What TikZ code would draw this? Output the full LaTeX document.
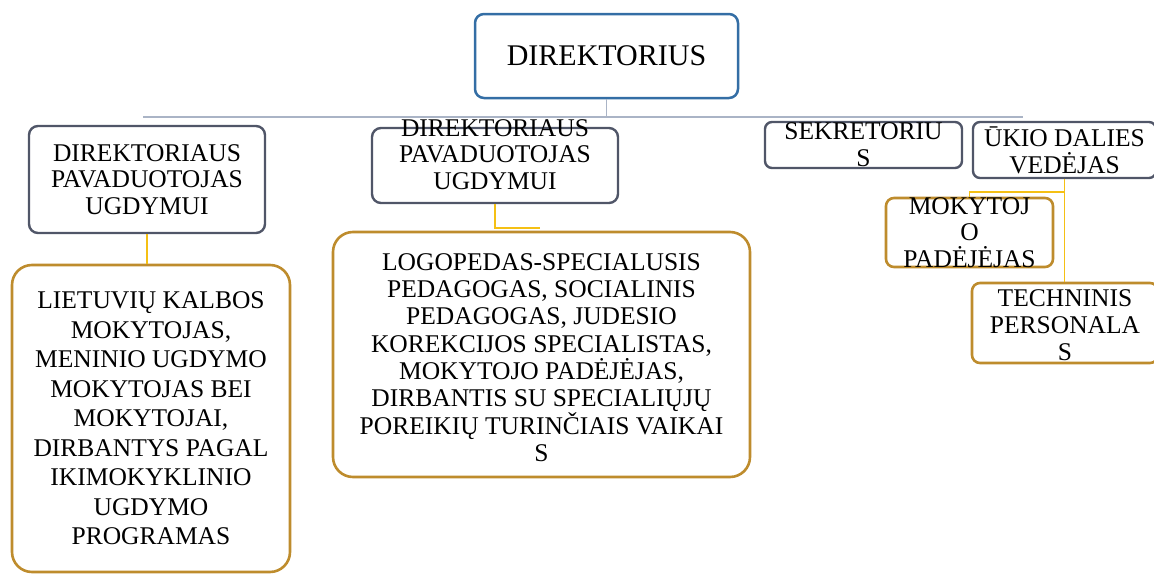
\documentclass[tikz,border=0pt]{standalone}
\usepackage{fontspec}
\setmainfont{Liberation Serif}
\usepackage{tikz}

\definecolor{dirblue}{RGB}{52,110,165}
\definecolor{frgray}{RGB}{80,86,104}
\definecolor{frgold}{RGB}{190,140,45}
\definecolor{busgray}{RGB}{170,180,198}
\definecolor{lnyellow}{RGB}{245,192,20}

\begin{document}
\begin{tikzpicture}[x=1pt,y=-1pt,
	box/.style={shape=rectangle,draw=frgray,fill=white,line width=2.4pt,rounded corners=9pt,inner sep=0pt},
	topbox/.style={box,draw=dirblue,line width=2.5pt},
	goldbox/.style={box,draw=frgold,line width=2.6pt},
	txt/.style={align=center,inner sep=0pt,font=\fontsize{25.5}{26.7}\selectfont},
	toptxt/.style={txt,font=\fontsize{30}{32}\selectfont},
	bus/.style={draw=busgray,line width=1.6pt},
	yline/.style={draw=lnyellow,line width=1.8pt}]
	\useasboundingbox (0,0) rectangle (1154,573);
	\clip (0,0) rectangle (1154,573);

	\node[topbox,minimum width=263,minimum height=84,label={[toptxt]center:DIREKTORIUS}] (dir) at (606.5,56) {};

	\node[box,minimum width=236,minimum height=107,label={[txt]center:{DIREKTORIAUS\\PAVADUOTOJAS\\UGDYMUI}}] (dirPavA) at (147,179.5) {};
	\node[box,minimum width=246,minimum height=75,label={[txt,yshift=11pt]center:{DIREKTORIAUS\\PAVADUOTOJAS\\UGDYMUI}}] (dirPavB) at (495,165.5) {};
	\node[box,rounded corners=7pt,minimum width=197,minimum height=46,label={[txt]center:{SEKRETORIU\\S}}] (sekr) at (863.5,145) {};
	\node[box,rounded corners=7pt,minimum width=183,minimum height=56,label={[txt]center:{ŪKIO DALIES\\VEDĖJAS}}] (ukio) at (1064.5,150) {};

	\node[goldbox,rounded corners=20pt,minimum width=278,minimum height=307,label={[txt,font=\fontsize{25.5}{29.5}\selectfont]center:{LIETUVIŲ KALBOS\\MOKYTOJAS,\\MENINIO UGDYMO\\MOKYTOJAS BEI\\MOKYTOJAI,\\DIRBANTYS PAGAL\\IKIMOKYKLINIO\\UGDYMO\\PROGRAMAS}}] (lietMok) at (151,418.5) {};
	\node[goldbox,rounded corners=20pt,minimum width=417,minimum height=245,label={[txt,yshift=-3pt,font=\fontsize{25.5}{27.3}\selectfont]center:{LOGOPEDAS-SPECIALUSIS\\PEDAGOGAS, SOCIALINIS\\PEDAGOGAS, JUDESIO\\KOREKCIJOS SPECIALISTAS,\\MOKYTOJO PADĖJĖJAS,\\DIRBANTIS SU SPECIALIŲJŲ\\POREIKIŲ TURINČIAIS VAIKAI\\S}}] (logoSpec) at (541.5,354.5) {};
	\node[goldbox,rounded corners=8pt,minimum width=167,minimum height=69,label={[txt]center:{MOKYTOJ\\O\\PADĖJĖJAS}}] (mokPad) at (969.5,232.5) {};
	\node[goldbox,rounded corners=8pt,minimum width=186,minimum height=80,label={[txt,yshift=-2pt]center:{TECHNINIS\\PERSONALA\\S}}] (techn) at (1065,323) {};

	\coordinate (busL) at (143,117);
	\coordinate (busR) at (1023,117);
	\coordinate (logoJoin) at (540,228);

	\path[bus] (dir.south) -- (dir.south |- busL);
	\path[bus] (busL) -- (busR);

	\path[yline] (dirPavA.south) -- (dirPavA.south |- lietMok.north);
	\path[yline] (dirPavB.south) |- (logoJoin);
	\path[yline] (mokPad.north) -- ++(0,-5) -| (ukio.south);
	\path[yline] (ukio.south) -- (ukio.south |- techn.north);
\end{tikzpicture}
\end{document}
